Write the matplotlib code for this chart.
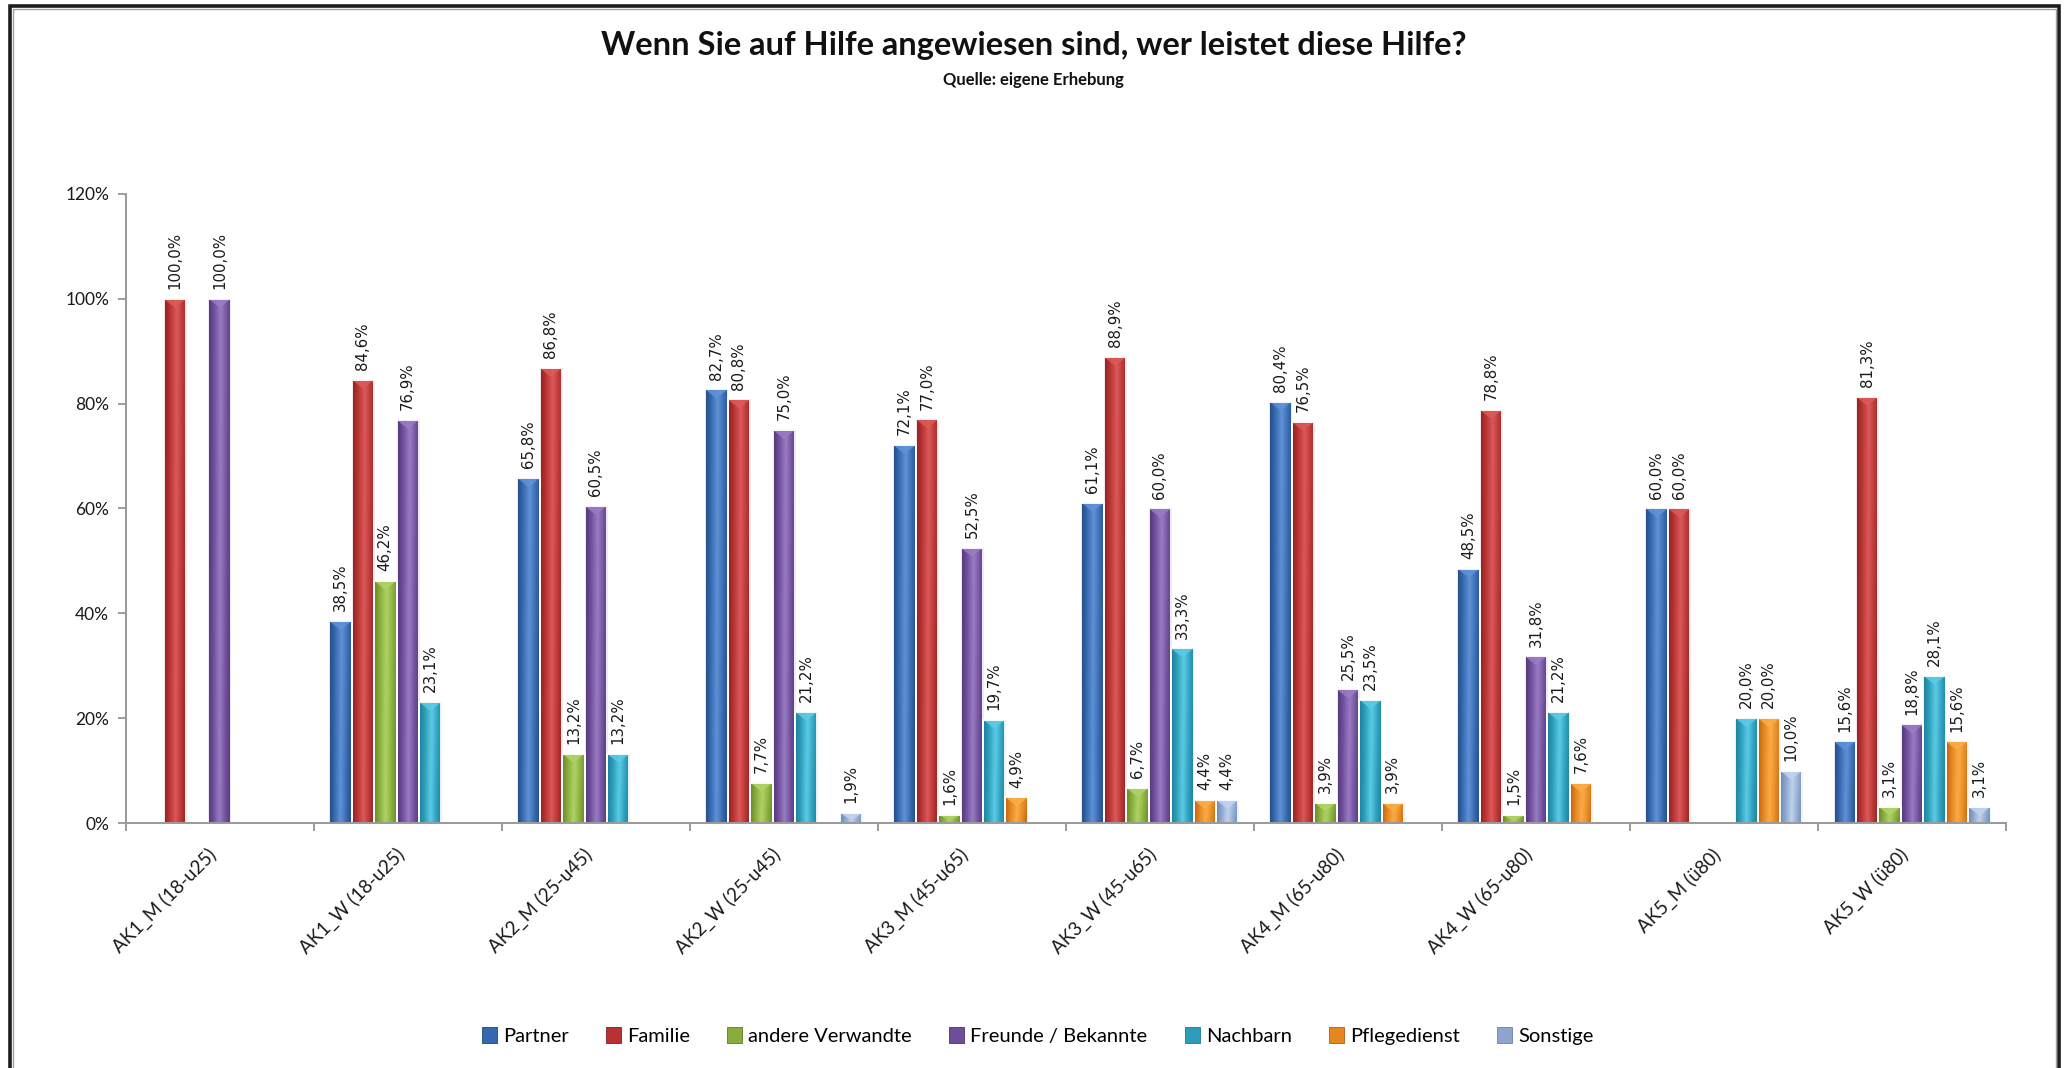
import numpy as np
import matplotlib
matplotlib.use('Agg')
import matplotlib.pyplot as plt
from matplotlib.patches import Polygon, Patch, Rectangle
from matplotlib.colors import LinearSegmentedColormap

# ---------------------------------------------------------------- data
kategorien = ['AK1_M (18-u25)', 'AK1_W (18-u25)', 'AK2_M (25-u45)', 'AK2_W (25-u45)',
              'AK3_M (45-u65)', 'AK3_W (45-u65)', 'AK4_M (65-u80)', 'AK4_W (65-u80)',
              'AK5_M (ü80)', 'AK5_W (ü80)']

serien = ['Partner', 'Familie', 'andere Verwandte', 'Freunde / Bekannte',
          'Nachbarn', 'Pflegedienst', 'Sonstige']

nan = np.nan
partner    = [nan, 38.5, 65.8, 82.7, 72.1, 61.1, 80.4, 48.5, 60.0, 15.6]
familie    = [100.0, 84.6, 86.8, 80.8, 77.0, 88.9, 76.5, 78.8, 60.0, 81.3]
verwandte  = [nan, 46.2, 13.2, 7.7, 1.6, 6.7, 3.9, 1.5, nan, 3.1]
freunde    = [100.0, 76.9, 60.5, 75.0, 52.5, 60.0, 25.5, 31.8, nan, 18.8]
nachbarn   = [nan, 23.1, 13.2, 21.2, 19.7, 33.3, 23.5, 21.2, 20.0, 28.1]
pflege     = [nan, nan, nan, nan, 4.9, 4.4, 3.9, 7.6, 20.0, 15.6]
sonstige   = [nan, nan, nan, 1.9, nan, 4.4, nan, nan, 10.0, 3.1]

werte = [partner, familie, verwandte, freunde, nachbarn, pflege, sonstige]

# (dunkel, mittel, hell) je Serie
farben = [('#1f4477', '#3568ae', '#5f92d6'),
          ('#841d1d', '#b83232', '#dc5a5a'),
          ('#5e7a22', '#88ad3c', '#b0d366'),
          ('#4a3270', '#6e4d9a', '#9a7cc4'),
          ('#1b7890', '#2b9db9', '#5ccbe6'),
          ('#b35a10', '#e68620', '#f9ad48'),
          ('#6680aa', '#8ea6cf', '#c0d4ee')]

###########################################################################

schrift = ['Lato', 'DejaVu Sans']
plt.rcParams['font.family'] = schrift

fig = plt.figure(figsize=(20.67, 10.68), dpi=100)
ax = fig.add_axes([0.0608, 0.2294, 0.9097, 0.589])

n_kat = len(kategorien)
n_ser = len(serien)
x = np.arange(n_kat) + 0.5
gruppe = 0.835
w = gruppe / n_ser

for s in range(n_ser):
    dunkel, mittel, hell = farben[s]
    cmap = LinearSegmentedColormap.from_list('g%d' % s, [dunkel, mittel, hell, mittel, dunkel])
    grad = np.linspace(0.05, 0.95, 64).reshape(1, -1)
    grad = np.vstack([grad * 0.9, grad])
    pos = x - gruppe / 2 + (s + 0.5) * w
    vals = np.array(werte[s], dtype=float)
    bars = ax.bar(pos, np.nan_to_num(vals), width=w, facecolor='none',
                  edgecolor='white', linewidth=1.3, zorder=3)
    for b, v in zip(bars, vals):
        if not np.isfinite(v):
            continue
        x0 = b.get_x()
        bw = b.get_width()
        im = ax.imshow(grad, cmap=cmap, vmin=0, vmax=1, extent=(x0, x0 + bw, 0, v),
                       aspect='auto', interpolation='bicubic', zorder=2)
        im.set_clip_path(b)
        d = min(1.7, v * 0.7)
        ax.add_patch(Polygon([(x0, v), (x0 + bw, v), (x0 + bw * 0.5, v - d)],
                             closed=True, facecolor=hell, edgecolor='none', alpha=0.85, zorder=2.5))
        txt = ('%.1f' % v).replace('.', ',') + '%'
        ax.annotate(txt, (x0 + bw / 2, v), xytext=(0, 7), textcoords='offset points',
                    rotation=90, ha='center', va='bottom', fontsize=10.8,
                    family='DejaVu Sans', color='#1a1a1a', zorder=4)

ax.set_xlim(0, n_kat)
ax.set_ylim(0, 120)

# y-Achse
ax.set_yticks(np.arange(0, 121, 20))
ax.set_yticklabels(['%d%%' % t for t in range(0, 121, 20)])
ax.tick_params(axis='y', length=6, width=1.2, color='#8c8c8c', pad=6, labelsize=12.5, labelcolor='#1a1a1a')

# x-Achse: Striche an den Grenzen, Beschriftung in der Mitte
ax.set_xticks(np.arange(0, n_kat + 1))
ax.set_xticklabels([])
ax.set_xticks(x, minor=True)
ax.set_xticklabels(kategorien, minor=True, rotation=45, ha='right', fontsize=13.5, color='#1a1a1a')
ax.tick_params(axis='x', which='major', length=6, width=1.2, color='#8c8c8c')
ax.tick_params(axis='x', which='minor', length=0, pad=16)

for sp in ['top', 'right']:
    ax.spines[sp].set_visible(False)
for sp in ['left', 'bottom']:
    ax.spines[sp].set_color('#999999')
    ax.spines[sp].set_linewidth(1.4)
ax.spines['bottom'].set_zorder(5)

# Titel
fig.text(0.5, 1 - 46 / 1068, 'Wenn Sie auf Hilfe angewiesen sind, wer leistet diese Hilfe?',
         ha='center', va='center', fontsize=23.5, fontweight='bold', color='#111111')
fig.text(0.5, 1 - 80 / 1068, 'Quelle: eigene Erhebung',
         ha='center', va='center', fontsize=12, fontweight='bold', color='#111111')

# Legende
handles = [Patch(facecolor=farben[s][1], edgecolor=farben[s][0], linewidth=0.6) for s in range(n_ser)]
fig.legend(handles, serien, loc='center', bbox_to_anchor=(0.502, 1 - 1036 / 1068), ncol=n_ser,
           frameon=False, fontsize=14.5, handlelength=0.75, handleheight=0.85,
           handletextpad=0.3, columnspacing=1.85)

# Rahmen
fig.patches.append(Rectangle((9.5 / 2067, -0.05), (2058.5 - 9.5) / 2067, 1.05 - 6 / 1068,
                             transform=fig.transFigure, fill=False, edgecolor='#1e1e1e',
                             linewidth=2.6, zorder=10))
fig.patches.append(Rectangle((12.5 / 2067, -0.05), (2055.5 - 12.5) / 2067, 1.05 - 9 / 1068,
                             transform=fig.transFigure, fill=False, edgecolor='#a0a0a0',
                             linewidth=1.0, zorder=10))

plt.savefig('out.png', dpi=100)
